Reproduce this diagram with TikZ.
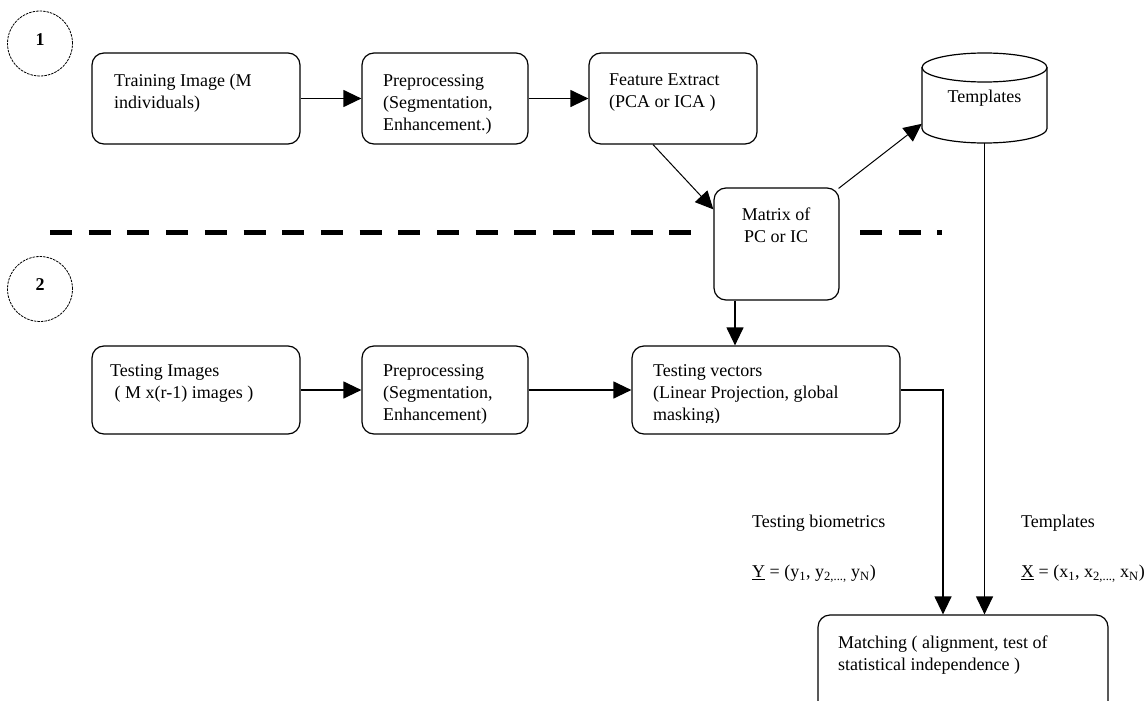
\documentclass[tikz,border=0pt]{standalone}
\usepackage{fontspec}
\setmainfont{Liberation Serif}
\usetikzlibrary{arrows.meta}
\begin{document}
\begin{tikzpicture}[x=1pt,y=-1pt,
  box/.style={draw,line width=1.2pt,rounded corners=12pt,inner sep=0pt},
  txt/.style={anchor=north west,align=left,inner sep=0pt,font=\fontsize{18}{22}\selectfont},
  ctxt/.style={align=center,inner sep=0pt,font=\fontsize{18}{22}\selectfont},
  arr/.style={line width=1.2pt,-{Triangle[length=18pt,width=17pt]}},
  darr/.style={line width=1pt,-{Triangle[length=18pt,width=17pt]}},
  numc/.style={draw,circle,dash pattern=on 2.5pt off 1pt,line width=0.8pt,minimum size=65pt,inner sep=0pt},
  numt/.style={font=\fontsize{18}{22}\selectfont\bfseries}]
\clip (0,0) rectangle (1148,701);
\fill[white] (0,0) rectangle (1148,701);

% step circles
\node[numc] (c1) at (40,43.5) {};
\node[numt] (n1) at (40,40) {1};
\node[numc] (c2) at (40,289) {};
\node[numt] (n2) at (40,285) {2};

% divider
\draw[line width=5pt,dash pattern=on 22pt off 16.7pt] (50,232) -- (700,232);
\draw[line width=5pt,dash pattern=on 22pt off 16.5pt] (860,232) -- (942,232);

% row 1 boxes
\node[box,minimum width=208pt,minimum height=91pt] (train) at (196,98.5) {};
\node[txt] (traint) at (114,71) {\strut Training Image (M\\individuals)};
\node[box,minimum width=166pt,minimum height=91pt] (pre1) at (445,98.5) {};
\node[txt] (pre1t) at (383,71) {\strut Preprocessing\\(Segmentation,\\Enhancement.)};
\node[box,minimum width=168pt,minimum height=91pt] (feat) at (673,98.5) {};
\node[txt] (featt) at (609,70) {\strut Feature Extract\\(PCA or ICA )};

% templates cylinder
\node[inner sep=0pt,minimum width=125pt,minimum height=90pt,font=\fontsize{18}{22}\selectfont] (tmpl) at (984.5,98) {Templates};
\draw[line width=1.2pt,fill=white] (984.5,67.5) ellipse [x radius=62.5pt,y radius=14.5pt];
\draw[line width=1.2pt] (922,67.5) -- (922,128.5) arc[start angle=180,end angle=360,x radius=62.5pt,y radius=14.5pt] -- (1047,67.5);

% matrix box
\node[box,fill=white,minimum width=125pt,minimum height=112pt] (matrix) at (776.5,244) {};
\node[ctxt] (matrixt) at (776,225) {Matrix of\\PC or IC};

% row 2 boxes
\node[box,minimum width=208pt,minimum height=88pt] (test) at (196,390) {};
\node[txt] (testt) at (110,361) {\strut Testing Images\\\ ( M x(r-1) images )};
\node[box,minimum width=166pt,minimum height=88pt] (pre2) at (445,390) {};
\begin{scope}
\clip (362,346) rectangle (528,424);
\node[txt] (pre2t) at (383,361) {\strut Preprocessing\\(Segmentation,\\Enhancement)};
\end{scope}
\node[box,minimum width=268pt,minimum height=88pt] (vec) at (766,390) {};
\begin{scope}
\clip (632,346) rectangle (900,422);
\node[txt] (vect) at (653,361) {\strut Testing vectors\\(Linear Projection, global\\masking)};
\end{scope}

% matching
\node[box,minimum width=290pt,minimum height=100pt] (match) at (963,665) {};
\node[txt] (matcht) at (838,633) {\strut Matching ( alignment, test of\\statistical independence )};

% labels
\node[anchor=west,inner sep=0pt,font=\fontsize{18}{22}\selectfont] (lb1) at (752,523) {Testing biometrics};
\node[anchor=west,inner sep=0pt,font=\fontsize{18}{22}\selectfont] (lb2) at (752,574) {\underline{Y} = (y\textsubscript{1}, y\textsubscript{2,...,} y\textsubscript{N})};
\node[anchor=west,inner sep=0pt,font=\fontsize{18}{22}\selectfont] (lb3) at (1021,523) {Templates};
\node[anchor=west,inner sep=0pt,font=\fontsize{18}{22}\selectfont] (lb4) at (1021,574) {\underline{X} = (x\textsubscript{1}, x\textsubscript{2,...,} x\textsubscript{N})};

% connectors
\draw[arr] (train) -- (pre1);
\draw[arr] (pre1) -- (feat);
\draw[darr] ([xshift=-20pt]feat.south) -- ([yshift=-22pt]matrix.north west);
\draw[darr] ([xshift=-1pt,yshift=-1pt]matrix.north east) -- ([yshift=-71pt]tmpl.north west);
\draw[arr] ([xshift=-41.5pt]matrix.south) -- ([xshift=-31pt]vec.north);
\draw[arr] (test) -- (pre2);
\draw[arr] (pre2) -- (vec);
\draw[arr] (vec.east) -| ([xshift=-20pt]match.north);
\draw[arr] (tmpl.south) -- (tmpl.south |- match.north);
\end{tikzpicture}
\end{document}
